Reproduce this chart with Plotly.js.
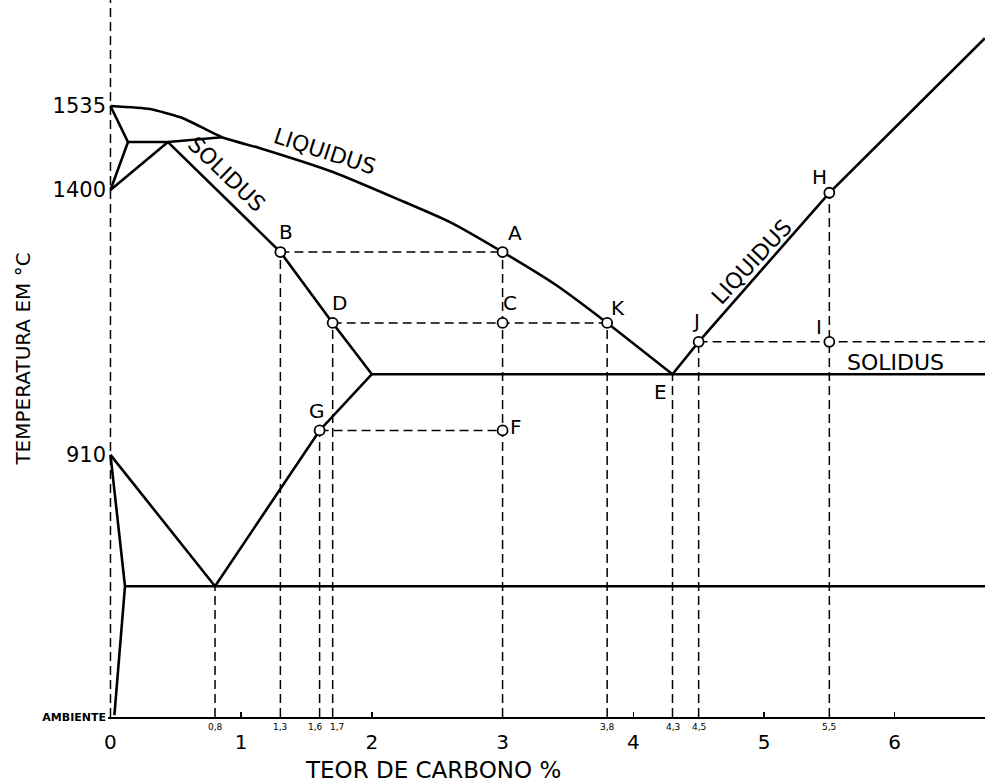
<!DOCTYPE html>
<html>
<head>
<meta charset="utf-8">
<script src="https://cdn.plot.ly/plotly-3.0.1.min.js"></script>
<style>
  html, body { margin: 0; padding: 0; background: #ffffff; }
  #chart { width: 985px; height: 784px; }
</style>
</head>
<body>
<div id="chart"></div>
<script>
// ---- Data (x = carbon %, y = schematic temperature level, 0 = ambient, 100 = 1535 °C) ----
const yTickVals  = [100, 86.25, 42.9, 0.6];
const yTickText  = ["1535", "1400", "910", "AMBIENTE"];
const xTickVals  = [0, 1, 2, 3, 4, 5, 6];
const xTickText  = ["0", "1", "2", "3", "4", "5", "6"];
const xSmallVals = [0.8, 1.3, 1.6, 1.7, 3.8, 4.3, 4.5, 5.5];
const xSmallText = ["0,8", "1,3", "1,6", "1,7", "3,8", "4,3", "4,5", "5,5"];

const liquidusLeftC  = [0, 0.302, 0.555, 0.853, 1.144, 1.702, 2.215, 2.598, 3.0, 3.409, 3.8, 4.3];
const liquidusLeftT  = [100, 99.5, 98.0, 94.9, 93.1, 89.2, 84.6, 81.0, 76.1, 70.7, 64.5, 56.1];
const liquidusRightC = [4.3, 4.5, 5.5, 6.69];
const liquidusRightT = [56.1, 61.4, 85.8, 111.1];
const deltaC         = [0, 0.134, 0];
const deltaT         = [100, 94.1, 86.25];
const deltaSolvusC   = [0, 0.44];
const deltaSolvusT   = [86.25, 94.1];
const peritecticC    = [0.134, 0.44, 0.853];
const peritecticT    = [94.1, 94.1, 94.9];
const solidusC       = [0.44, 1.3, 1.7, 2.0];
const solidusT       = [94.1, 76.1, 64.5, 56.1];
const eutecticC      = [2.0, 4.3, 6.8];
const eutecticT      = [56.1, 56.1, 56.1];
const acmC           = [2.0, 1.6, 0.8];
const acmT           = [56.1, 46.9, 21.4];
const a3C            = [0, 0.8];
const a3T            = [42.9, 21.4];
const alphaC         = [0, 0.111, 0.03];
const alphaT         = [42.9, 21.4, 0.3];
const eutectoidC     = [0.111, 0.8, 6.8];
const eutectoidT     = [21.4, 21.4, 21.4];

const pointNames = ["A", "B", "C", "D", "K", "G", "F", "J", "I", "H"];
const pointC     = [3.0, 1.3, 3.0, 1.7, 3.8, 1.6, 3.0, 4.5, 5.5, 5.5];
const pointT     = [76.1, 76.1, 64.5, 64.5, 64.5, 46.9, 46.9, 61.4, 61.4, 85.8];
const eutecticPointC = 4.3;
const eutecticPointT = 56.1;

const vGuideC   = [0.8, 1.3, 1.6, 1.7, 3.0, 3.8, 4.3, 4.5, 5.5];
const vGuideTop = [21.4, 76.1, 46.9, 64.5, 76.1, 64.5, 56.1, 61.4, 85.8];
const hGuideFrom  = [1.3, 1.7, 1.6, 4.5];
const hGuideTo    = [3.0, 3.8, 3.0, 6.8];
const hGuideLevel = [76.1, 64.5, 46.9, 61.4];

// ---- Styling ----
const FONT = "DejaVu Sans, Arial, sans-serif";
const X_RANGE = [-0.019, 6.691];
const Y_RANGE = [0, 117.35];
const solid = {color: "#000", width: 2.6};
const dashed = {color: "#000", width: 1.5, dash: "9px,5px"};

function solidTrace(x, y, shape) {
  const line = Object.assign({}, solid);
  if (shape) { line.shape = shape; line.smoothing = 0.5; }
  return {x: x, y: y, type: "scatter", mode: "lines", line: line, hoverinfo: "skip", showlegend: false};
}
function dashTrace(x, y) {
  return {x: x, y: y, type: "scatter", mode: "lines", line: dashed, hoverinfo: "skip", showlegend: false};
}

const traces = [];
// y axis drawn as a dashed line at 0 %
traces.push(dashTrace([0, 0], Y_RANGE));
// guides
vGuideC.forEach((c, i) => traces.push(dashTrace([c, c], [0, vGuideTop[i]])));
hGuideLevel.forEach((t, i) => traces.push(dashTrace([hGuideFrom[i], hGuideTo[i]], [t, t])));
// phase boundaries
traces.push(solidTrace(liquidusLeftC, liquidusLeftT, "spline"));
traces.push(solidTrace(liquidusRightC, liquidusRightT));
traces.push(solidTrace(deltaC, deltaT));
traces.push(solidTrace(deltaSolvusC, deltaSolvusT));
traces.push(solidTrace(peritecticC, peritecticT));
traces.push(solidTrace(solidusC, solidusT));
traces.push(solidTrace(eutecticC, eutecticT));
traces.push(solidTrace(acmC, acmT));
traces.push(solidTrace(a3C, a3T));
traces.push(solidTrace(alphaC, alphaT));
traces.push(solidTrace(eutectoidC, eutectoidT));
// open circle markers
traces.push({
  x: pointC, y: pointT, type: "scatter", mode: "markers", showlegend: false, hoverinfo: "skip",
  marker: {symbol: "circle", size: 10, color: "#fff", line: {color: "#000", width: 1.8}}
});

// label offsets in px (x right, y up)
const labelShift = {
  A: [12, 19], B: [6, 20], C: [7, 20], D: [7, 20], K: [11, 15],
  G: [-3, 19], F: [13, 3], J: [-3, 21], I: [-10, 15], H: [-10, 16], E: [-12, -18]
};
const smallShift = {"1,6": -4, "1,7": 4};

const annotations = [];
pointNames.forEach((n, i) => {
  annotations.push({
    x: pointC[i], y: pointT[i], xref: "x", yref: "y", text: n, showarrow: false,
    xshift: labelShift[n][0], yshift: labelShift[n][1],
    font: {family: FONT, size: 20, color: "#000"}
  });
});
annotations.push({
  x: eutecticPointC, y: eutecticPointT, xref: "x", yref: "y", text: "E", showarrow: false,
  xshift: labelShift.E[0], yshift: labelShift.E[1],
  font: {family: FONT, size: 20, color: "#000"}
});

// curve names
annotations.push({x: 1.641, y: 92.6, xref: "x", yref: "y", text: "LIQUIDUS", showarrow: false,
  textangle: 18, font: {family: FONT, size: 22, color: "#000"}});
annotations.push({x: 0.891, y: 88.8, xref: "x", yref: "y", text: "SOLIDUS", showarrow: false,
  textangle: 44, font: {family: FONT, size: 22, color: "#000"}});
annotations.push({x: 4.91, y: 74.5, xref: "x", yref: "y", text: "LIQUIDUS", showarrow: false,
  textangle: -47, font: {family: FONT, size: 22, color: "#000"}});
annotations.push({x: 6.01, y: 58.1, xref: "x", yref: "y", text: "SOLIDUS", showarrow: false,
  font: {family: FONT, size: 22, color: "#000"}});

// small composition labels under the axis
xSmallVals.forEach((c, i) => {
  annotations.push({
    x: c, y: 0, xref: "x", yref: "paper", yanchor: "top", yshift: -3,
    xshift: smallShift[xSmallText[i]] || 0, text: xSmallText[i],
    showarrow: false, font: {family: FONT, size: 9, color: "#000"}
  });
});

// x axis title
annotations.push({
  x: 2.47, y: 0, xref: "x", yref: "paper", yanchor: "middle", yshift: -53,
  text: "TEOR DE CARBONO %", showarrow: false,
  font: {family: FONT, size: 23, color: "#000"}
});

const layout = {
  width: 985, height: 784,
  margin: {l: 108, r: 0, t: 0, b: 67, pad: 0},
  paper_bgcolor: "#fff", plot_bgcolor: "#fff",
  showlegend: false,
  xaxis: {
    range: X_RANGE, showgrid: false, zeroline: false,
    showline: true, linecolor: "#000", linewidth: 2,
    tickmode: "array", tickvals: xTickVals, ticktext: xTickText,
    ticks: "inside", ticklen: 5, tickwidth: 1.5, tickcolor: "#000",
    ticklabelstandoff: 6,
    tickfont: {family: FONT, size: 20, color: "#000"}
  },
  yaxis: {
    range: Y_RANGE, showgrid: false, zeroline: false, showline: false,
    tickmode: "array", tickvals: yTickVals,
    ticktext: yTickText.map(t => t === "AMBIENTE" ? '<span style="font-size:11px;font-weight:bold">' + t + '</span>' : t),
    ticks: "", ticklabelstandoff: 1,
    tickfont: {family: FONT, size: 21, color: "#000"},
    title: {text: "TEMPERATURA EM °C", standoff: 6, font: {family: FONT, size: 20, color: "#000"}}
  },
  annotations: annotations
};

Plotly.newPlot("chart", traces, layout, {displayModeBar: false, staticPlot: true});
</script>
</body>
</html>
